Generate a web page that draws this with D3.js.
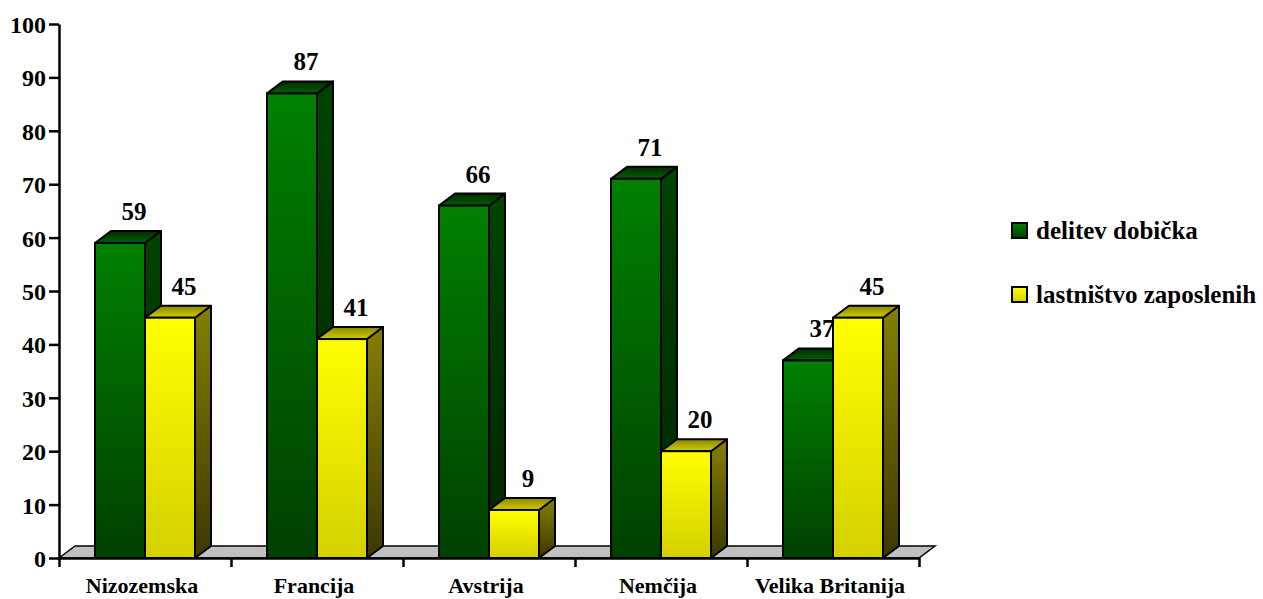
<!DOCTYPE html>
<html>
<head>
<meta charset="utf-8">
<script src="https://cdn.jsdelivr.net/npm/d3@7"></script>
<style>
  body { margin: 0; background: #fff; }
  text { font-family: "Liberation Serif", "Times New Roman", Times, "DejaVu Serif", serif; font-weight: bold; fill: #000; }
</style>
</head>
<body>
<svg id="chart" width="1263" height="599"></svg>
<script>
// DATA
var categories = ["Nizozemska", "Francija", "Avstrija", "Nemčija", "Velika Britanija"];
var seriesNames = ["delitev dobička", "lastništvo zaposlenih"];
var delitevDobicka = [59, 87, 66, 71, 37];
var lastnistvoZaposlenih = [45, 41, 9, 20, 45];
var yTicks = [0, 10, 20, 30, 40, 50, 60, 70, 80, 90, 100];

// colours per series: front top/bottom, side top/bottom, top face back/front
var palettes = [
  { front: ["#008000", "#004000"], side: ["#004400", "#002400"], top: ["#002c00", "#006000"] },
  { front: ["#ffff00", "#d4d000"], side: ["#848000", "#3c3800"], top: ["#8a8600", "#d0cc00"] }
];
var FONT = "'Liberation Serif', 'Times New Roman', Times, 'DejaVu Serif', serif";

var svg = d3.select("#chart");
var defs = svg.append("defs");

var left = 59, right = 919, y0 = 558, yTopPx = 24;
var depthX = 16, depthY = 12;
var barW = 50;

var xScale = d3.scaleBand().domain(categories).range([left, right]);
var subScale = d3.scaleBand().domain(seriesNames)
  .range([(xScale.bandwidth() - 2 * barW) / 2, (xScale.bandwidth() + 2 * barW) / 2]);
var yScale = d3.scaleLinear().domain([0, 100]).range([y0, yTopPx]);

// GRADIENTS
function addGradient(id, c1, c2){
  var g = defs.append("linearGradient").attr("id", id)
    .attr("x1", 0).attr("y1", 0).attr("x2", 0).attr("y2", 1);
  g.append("stop").attr("offset", "0%").attr("stop-color", c1);
  g.append("stop").attr("offset", "100%").attr("stop-color", c2);
}
palettes.forEach(function(p, i){
  addGradient("front" + i, p.front[0], p.front[1]);
  addGradient("side" + i, p.side[0], p.side[1]);
  addGradient("top" + i, p.top[0], p.top[1]);
});

// FLOOR
svg.append("polygon")
  .attr("points", [[left, y0], [left + depthX, y0 - depthY], [right + depthX, y0 - depthY], [right, y0]].join(" "))
  .attr("fill", "#c0c0c0")
  .attr("stroke", "#000")
  .attr("stroke-width", 1.5);

// BARS
var seriesData = [delitevDobicka, lastnistvoZaposlenih];
var barsG = svg.append("g").attr("class", "bars");
var labelsG = svg.append("g").attr("class", "labels");

categories.forEach(function(cat, ci){
  seriesData.forEach(function(values, si){
    var v = values[ci];
    var x = xScale(cat) + subScale(seriesNames[si]);
    var w = subScale.bandwidth();
    var yt = yScale(v);
    var g = barsG.append("g");

    g.append("polygon")
      .attr("points", [[x + w, yt], [x + w + depthX, yt - depthY], [x + w + depthX, y0 - depthY], [x + w, y0]].join(" "))
      .attr("fill", "url(#side" + si + ")")
      .attr("stroke", "#000").attr("stroke-width", 2).attr("stroke-linejoin", "round");

    g.append("polygon")
      .attr("points", [[x, yt], [x + depthX, yt - depthY], [x + w + depthX, yt - depthY], [x + w, yt]].join(" "))
      .attr("fill", "url(#top" + si + ")")
      .attr("stroke", "#000").attr("stroke-width", 2).attr("stroke-linejoin", "round");

    g.append("rect")
      .attr("x", x).attr("y", yt)
      .attr("width", w).attr("height", y0 - yt)
      .attr("fill", "url(#front" + si + ")")
      .attr("stroke", "#000").attr("stroke-width", 2);

    // labels go in their own layer so no bar covers them
    labelsG.append("text")
      .attr("x", x + w / 2 + depthX - 2)
      .attr("y", yt - depthY - 11)
      .attr("text-anchor", "middle")
      .style("font-size", "25px")
      .text(v);
  });
});

// Y AXIS
var yAxis = svg.append("g")
  .attr("transform", "translate(" + left + ",0)")
  .call(d3.axisLeft(yScale).tickValues(yTicks).tickSize(10).tickSizeOuter(0).tickPadding(3));
yAxis.select(".domain").attr("stroke", "#000").attr("stroke-width", 2.5);
yAxis.selectAll(".tick line").attr("stroke", "#000").attr("stroke-width", 2.5);
yAxis.selectAll(".tick text")
  .attr("dy", "0.35em")
  .style("font-family", FONT)
  .style("font-weight", "bold")
  .style("font-size", "24px");

// X AXIS (ticks at category boundaries)
var boundary = d3.scaleLinear().domain([0, categories.length]).range([left, right]);
var xAxis = svg.append("g")
  .attr("transform", "translate(0," + y0 + ")")
  .call(d3.axisBottom(boundary).tickValues(d3.range(categories.length + 1)).tickSize(9).tickSizeOuter(0).tickFormat(""));
xAxis.select(".domain").attr("stroke", "#000").attr("stroke-width", 2.5);
xAxis.selectAll(".tick line").attr("stroke", "#000").attr("stroke-width", 2.5);

svg.append("g").selectAll("text.cat").data(categories)
  .enter().append("text").attr("class", "cat")
  .attr("x", function(d){ return xScale(d) + xScale.bandwidth() / 2 - 3; })
  .attr("y", 593)
  .attr("text-anchor", "middle")
  .style("font-size", "22px")
  .text(function(d){ return d; });

// LEGEND
var legend = svg.append("g").attr("transform", "translate(1012,223)");
seriesNames.forEach(function(name, i){
  var row = legend.append("g").attr("transform", "translate(0," + (i * 64) + ")");
  row.append("rect")
    .attr("width", 15).attr("height", 15)
    .attr("fill", "url(#front" + i + ")")
    .attr("stroke", "#000").attr("stroke-width", 2);
  row.append("text")
    .attr("x", 24).attr("y", 16)
    .style("font-size", "25px")
    .text(name);
});
</script>
</body>
</html>
